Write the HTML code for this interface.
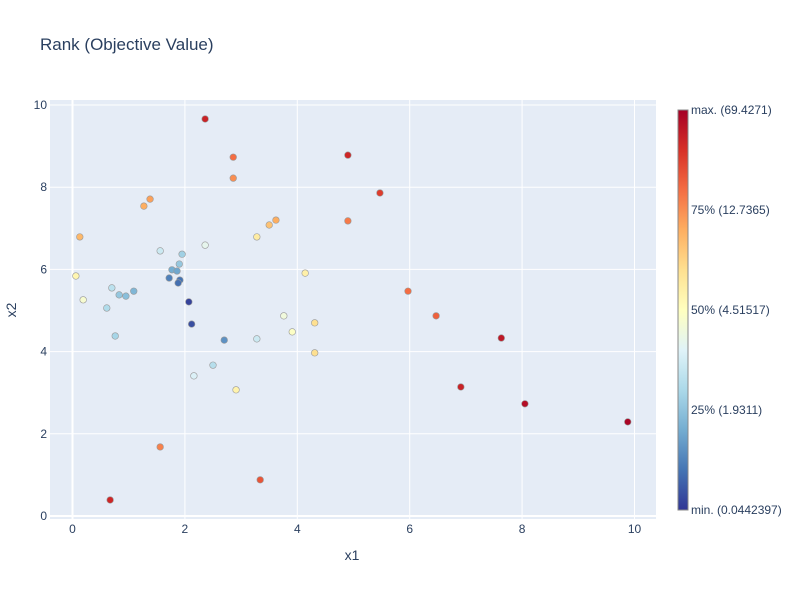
<!DOCTYPE html>
<html><head><meta charset="utf-8"><style>
body{margin:0;background:#fff;font-family:"Liberation Sans",sans-serif}
text{font-family:"Liberation Sans",sans-serif;fill:#2a3f5f}
</style></head><body>
<svg id="chart" width="800" height="600">
<defs><linearGradient id="cg" x1="0" y1="1" x2="0" y2="0">
<stop offset="0" stop-color="rgb(49,54,149)"/><stop offset="0.1" stop-color="rgb(69,117,180)"/><stop offset="0.2" stop-color="rgb(116,173,209)"/><stop offset="0.3" stop-color="rgb(171,217,233)"/><stop offset="0.4" stop-color="rgb(224,243,248)"/><stop offset="0.5" stop-color="rgb(255,255,191)"/><stop offset="0.6" stop-color="rgb(254,224,144)"/><stop offset="0.7" stop-color="rgb(253,174,97)"/><stop offset="0.8" stop-color="rgb(244,109,67)"/><stop offset="0.9" stop-color="rgb(215,48,39)"/><stop offset="1" stop-color="rgb(165,0,38)"/>
</linearGradient></defs>
<text x="40" y="50" font-size="17">Rank (Objective Value)</text>
<rect x="50" y="100" width="606" height="419" fill="#e5ecf6"/>
<g id="grid"></g><g id="pts"></g>
<text x="352" y="560" font-size="14" text-anchor="middle">x1</text>
<text x="16" y="310" font-size="14" text-anchor="middle" transform="rotate(-90 16 310)">x2</text>
<rect x="678" y="110" width="10" height="400" fill="url(#cg)" stroke="#888" stroke-width="1"/>
<g font-size="12">
<text x="691" y="114">max. (69.4271)</text>
<text x="691" y="214">75% (12.7365)</text>
<text x="691" y="314">50% (4.51517)</text>
<text x="691" y="414">25% (1.9311)</text>
<text x="691" y="514">min. (0.0442397)</text>
</g>
</svg>
<script>
const xTicks=[0,2,4,6,8,10];
const yTicks=[0,2,4,6,8,10];
const xs=[2.36,2.86,2.86,4.90,5.47,1.38,1.27,0.13,4.90,3.62,3.50,3.28,2.36,1.56,1.95,1.90,1.77,1.86,1.72,1.91,1.88,0.06,0.19,0.70,0.83,0.95,1.09,0.61,0.76,2.07,2.12,2.70,2.50,2.16,2.91,3.28,3.76,3.91,4.14,4.31,4.31,5.97,6.47,7.63,6.91,8.05,9.88,1.56,3.34,0.67];
const ys=[9.66,8.73,8.22,8.78,7.86,7.71,7.54,6.79,7.18,7.20,7.08,6.79,6.59,6.45,6.37,6.13,5.99,5.96,5.79,5.74,5.67,5.84,5.26,5.55,5.38,5.35,5.47,5.06,4.38,5.21,4.67,4.28,3.67,3.41,3.07,4.31,4.87,4.48,5.91,4.70,3.97,5.47,4.87,4.33,3.14,2.73,2.29,1.68,0.88,0.39];
const ranks=[0.93,0.8,0.75,0.92,0.88,0.72,0.7,0.68,0.78,0.7,0.66,0.56,0.42,0.36,0.28,0.26,0.2,0.19,0.12,0.1,0.09,0.53,0.47,0.33,0.26,0.24,0.22,0.31,0.29,0.02,0.04,0.15,0.32,0.39,0.54,0.36,0.45,0.49,0.55,0.6,0.6,0.8,0.82,0.95,0.93,0.97,0.99,0.77,0.84,0.92];
const X=v=>72.5+v*56.2, Y=v=>516-v*41.1;
const stops=[[49,54,149],[69,117,180],[116,173,209],[171,217,233],[224,243,248],[255,255,191],[254,224,144],[253,174,97],[244,109,67],[215,48,39],[165,0,38]];
function col(t){t=Math.max(0,Math.min(1,t))*10;const i=Math.min(9,Math.floor(t)),f=t-i,a=stops[i],b=stops[i+1];return `rgb(${a.map((c,k)=>Math.round(c+(b[k]-c)*f)).join(',')})`;}
const ns="http://www.w3.org/2000/svg",svg=document.getElementById('chart'),g=document.getElementById('grid'),p=document.getElementById('pts');
function mk(tag,at,par){const e=document.createElementNS(ns,tag);for(const k in at)e.setAttribute(k,at[k]);par.appendChild(e);return e;}
xTicks.forEach(t=>{const l=mk('line',{x1:X(t),x2:X(t),y1:100,y2:519,stroke:'#fff','stroke-width':t===0?2:1},g);


const tx=mk('text',{x:X(t),y:533,'font-size':12,'text-anchor':'middle'},svg);tx.textContent=t;

});
yTicks.forEach(t=>{const l=mk('line',{x1:50,x2:656,y1:Y(t),y2:Y(t),stroke:'#fff','stroke-width':t===0?2:1},g);


const tx=mk('text',{x:47,y:Y(t)+4,'font-size':12,'text-anchor':'end'},svg);tx.textContent=t;

});
xs.forEach((v,i)=>{const c=mk('circle',{cx:X(v),cy:Y(ys[i]),r:3.3,fill:col(ranks[i]),stroke:'#999','stroke-width':0.6},p);

});
</script>
</body></html>
